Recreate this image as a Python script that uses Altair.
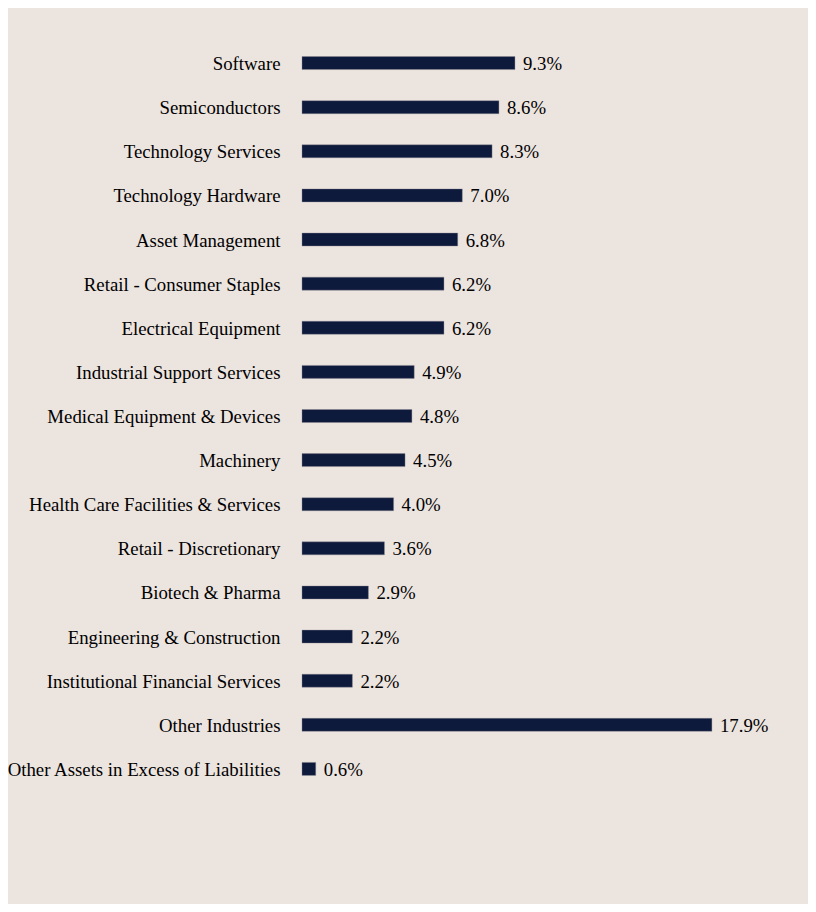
import altair as alt
import pandas as pd

industries = [
    "Software",
    "Semiconductors",
    "Technology Services",
    "Technology Hardware",
    "Asset Management",
    "Retail - Consumer Staples",
    "Electrical Equipment",
    "Industrial Support Services",
    "Medical Equipment & Devices",
    "Machinery",
    "Health Care Facilities & Services",
    "Retail - Discretionary",
    "Biotech & Pharma",
    "Engineering & Construction",
    "Institutional Financial Services",
    "Other Industries",
    "Other Assets in Excess of Liabilities",
]
weights = [9.3, 8.6, 8.3, 7.0, 6.8, 6.2, 6.2, 4.9, 4.8, 4.5, 4.0, 3.6, 2.9, 2.2, 2.2, 17.9, 0.6]

df = pd.DataFrame({"industry": industries, "weight": weights})
df["label"] = [f"{w:.1f}%" for w in weights]

BG = "#ECE4DF"
NAVY = "#0E1A3C"
FONT = "Liberation Serif"
FS = 18.8

y_enc = alt.Y(
    "industry:N",
    sort=industries,
    title=None,
    scale=alt.Scale(paddingInner=0.7, paddingOuter=0.35),
    axis=alt.Axis(
        ticks=False,
        domain=False,
        grid=False,
        labelPadding=22,
        labelOffset=1,
        labelFont=FONT,
        labelFontSize=FS,
        labelColor="#000000",
        labelLimit=0,
        labelAlign="right",
    ),
)
x_enc = alt.X(
    "weight:Q",
    title=None,
    scale=alt.Scale(domain=[0, 20], nice=False, zero=True),
    axis=None,
)

bars = alt.Chart(df).mark_bar(
    color=NAVY, size=13, stroke="#8a8a92", strokeWidth=0.4
).encode(y=y_enc, x=x_enc)

texts = alt.Chart(df).mark_text(
    align="left", baseline="middle", dx=8, dy=1, font=FONT, fontSize=FS, color="#000000"
).encode(y=alt.Y("industry:N", sort=industries), x="weight:Q", text="label:N")

chart = (
    alt.layer(bars, texts)
    .properties(
        width=458,
        height=750,
        background=BG,
        padding={"left": 294, "top": 33, "right": 48, "bottom": 113},
        autosize=alt.AutoSizeParams(type="none"),
    )
    .configure_view(stroke=None)
)

chart.save("out.html", embed_options={"renderer": "svg", "actions": False})
